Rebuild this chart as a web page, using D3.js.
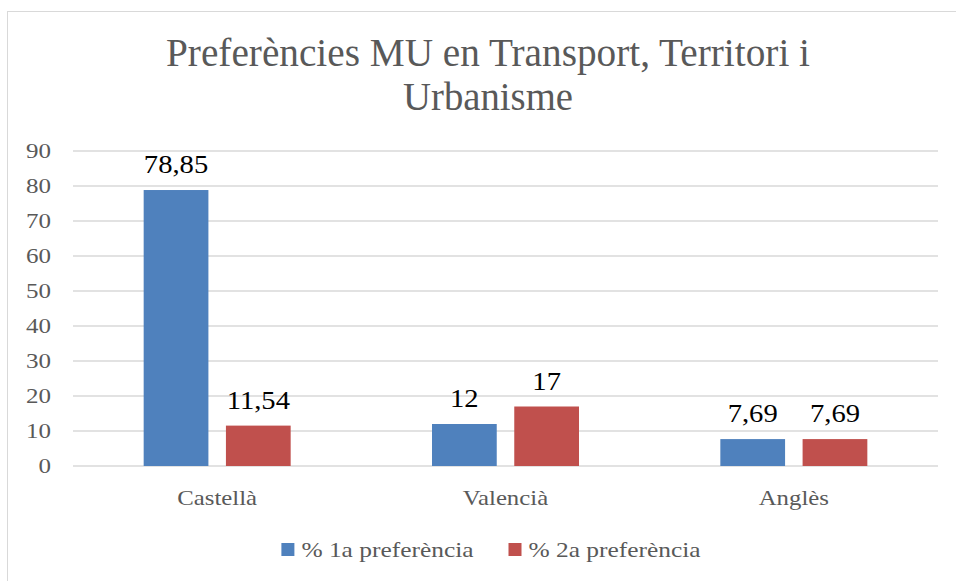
<!DOCTYPE html>
<html>
<head>
<meta charset="utf-8">
<script src="https://cdn.jsdelivr.net/npm/d3@7"></script>
<style>
  body { margin: 0; background: #fff; }
  svg { display: block; font-family: "Liberation Serif", "DejaVu Serif", serif; }
  .tick-label { fill: #595959; font-size: 21px; }
  .cat-label { fill: #595959; font-size: 21px; }
  .data-label { fill: #000; font-size: 26px; }
  .legend-text { fill: #595959; font-size: 21px; }
  .title { fill: #595959; font-size: 39px; }
</style>
</head>
<body>
<svg width="956" height="581"></svg>
<script>
// chart data
var categories = ['Castellà', 'Valencià', 'Anglès'];
var seriesNames = ['% 1a preferència', '% 2a preferència'];
var pref1 = [78.85, 12, 7.69];
var pref2 = [11.54, 17, 7.69];
var yTicks = [0, 10, 20, 30, 40, 50, 60, 70, 80, 90];
var colors = ['#4f81bd', '#c0504d'];

var svg = d3.select('svg');

// widen glyphs a bit, the original font (Cambria) is wider than Times
function widen(sel, k) {
   sel.each(function(){
      var w = this.getComputedTextLength();
      d3.select(this)
        .attr('textLength', w * k)
        .attr('lengthAdjust', 'spacingAndGlyphs');
   });
}

// outer chart border (runs off the right/bottom edge)
svg.append('rect')
   .attr('x', 7.5)
   .attr('y', 11.5)
   .attr('width', 1000)
   .attr('height', 1000)
   .attr('fill', 'none')
   .attr('stroke', '#d9d9d9');

// title, two lines
var titleLines = ['Preferències MU en Transport, Territori i', 'Urbanisme'];
var titleWidths = [644, 170];
svg.selectAll('.title')
   .data(titleLines)
   .enter()
   .append('text')
   .attr('class', 'title')
   .attr('x', 488)
   .attr('y', function(d, i){ return 66 + i * 44; })
   .attr('text-anchor', 'middle')
   .attr('textLength', function(d, i){ return titleWidths[i]; })
   .attr('lengthAdjust', 'spacingAndGlyphs')
   .text(function(d){ return d; });

// scales
var xScale = d3.scaleBand()
   .domain(categories)
   .range([73, 938]);

var groupWidth = 147;
var x1 = d3.scaleBand()
   .domain(seriesNames)
   .range([0, groupWidth])
   .paddingInner(0.213);

var yScale = d3.scaleLinear()
   .domain([0, 90])
   .range([466, 151]);

// gridlines
svg.selectAll('.grid')
   .data(yTicks)
   .enter()
   .append('line')
   .attr('class', 'grid')
   .attr('x1', 73)
   .attr('x2', 938)
   .attr('y1', function(d){ return yScale(d); })
   .attr('y2', function(d){ return yScale(d); })
   .attr('stroke', '#d9d9d9')
   .attr('stroke-width', 1.3);

// y tick labels
svg.selectAll('.tick-label')
   .data(yTicks)
   .enter()
   .append('text')
   .attr('class', 'tick-label')
   .attr('x', 51)
   .attr('y', function(d){ return yScale(d); })
   .attr('dy', '0.35em')
   .attr('text-anchor', 'end')
   .text(function(d){ return d; })
   .call(widen, 1.19);

// bars
var rows = [];
categories.forEach(function(c, i){
   rows.push({cat: c, s: 0, v: pref1[i]});
   rows.push({cat: c, s: 1, v: pref2[i]});
});

function barX(d){
   return xScale(d.cat) + (xScale.bandwidth() - groupWidth) / 2 + x1(seriesNames[d.s]);
}

svg.selectAll('.bar')
   .data(rows)
   .enter()
   .append('rect')
   .attr('class', 'bar')
   .attr('x', barX)
   .attr('y', function(d){ return yScale(d.v); })
   .attr('width', x1.bandwidth())
   .attr('height', function(d){ return yScale(0) - yScale(d.v); })
   .attr('fill', function(d){ return colors[d.s]; });

// data labels
svg.selectAll('.data-label')
   .data(rows)
   .enter()
   .append('text')
   .attr('class', 'data-label')
   .attr('x', function(d){ return barX(d) + x1.bandwidth() / 2; })
   .attr('y', function(d){ return yScale(d.v) - 17; })
   .attr('text-anchor', 'middle')
   .text(function(d){ return String(d.v).replace('.', ','); })
   .call(widen, 1.1);

// category labels
svg.selectAll('.cat-label')
   .data(categories)
   .enter()
   .append('text')
   .attr('class', 'cat-label')
   .attr('x', function(d){ return xScale(d) + xScale.bandwidth() / 2; })
   .attr('y', 505)
   .attr('text-anchor', 'middle')
   .text(function(d){ return d; })
   .call(widen, 1.18);

// legend, centred under the plot
var legend = svg.append('g');
var items = legend.selectAll('.legend-item')
   .data(seriesNames)
   .enter()
   .append('g')
   .attr('class', 'legend-item');

items.append('rect')
   .attr('width', 13)
   .attr('height', 13)
   .attr('y', -13)
   .attr('fill', function(d, i){ return colors[i]; });

items.append('text')
   .attr('class', 'legend-text')
   .attr('x', 20)
   .attr('y', 1)
   .text(function(d){ return d; })
   .call(widen, 1.21);

var offset = 0;
items.each(function(){
   var t = d3.select(this).select('text');
   var w = +t.attr('textLength') + 20;
   d3.select(this).attr('transform', 'translate(' + offset + ',0)');
   offset += w + 35;
});
offset -= 35;
legend.attr('transform', 'translate(' + (491 - offset / 2) + ',556)');
</script>
</body>
</html>
